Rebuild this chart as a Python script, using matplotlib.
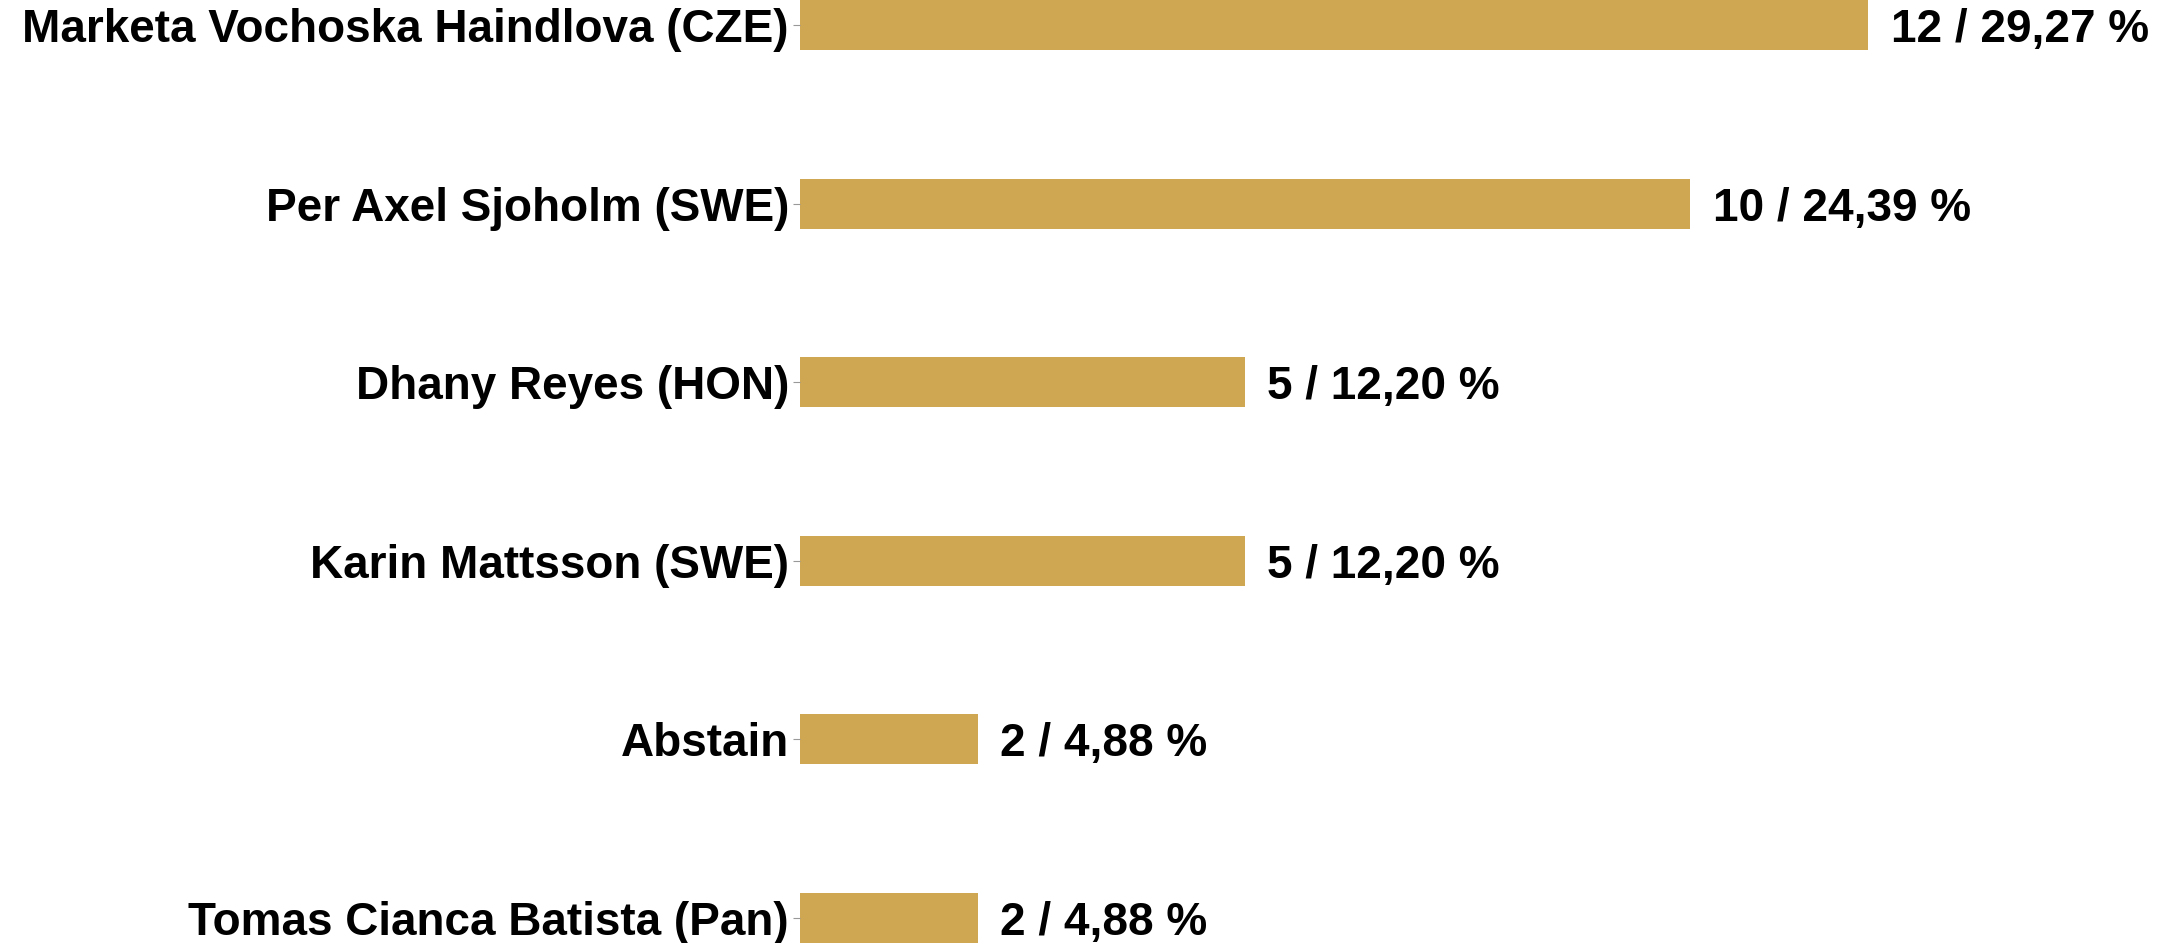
import numpy as np
import matplotlib.pyplot as plt

# Stimmen pro Kandidat
names = ['Marketa Vochoska Haindlova (CZE)', 'Per Axel Sjoholm (SWE)',
         'Dhany Reyes (HON)', 'Karin Mattsson (SWE)', 'Abstain',
         'Tomas Cianca Batista (Pan)']
votes = [12, 10, 5, 5, 2, 2]
percent = ['29,27', '24,39', '12,20', '12,20', '4,88', '4,88']

bar_color = '#cfa652'

fig = plt.figure(figsize=(21.71, 9.43), dpi=100)
ax = fig.add_axes([0.3685, 0.0, 0.6315, 1.0])

y = np.arange(len(names))
ax.barh(y, votes, height=0.28, color=bar_color)

for yi, v, p in zip(y, votes, percent):
    ax.text(v + 0.25, yi, f'{v} / {p} %', va='center_baseline', ha='left',
            fontsize=33, fontweight='bold', family='Liberation Sans')

ax.set_yticks(y)
ax.set_yticklabels(names, fontsize=33, fontweight='bold', family='Liberation Sans')
ax.tick_params(axis='y', length=5, width=0.8, color='#999999', pad=3)
ax.set_xticks([])
ax.set_xlim(0, 15.4)
ax.set_ylim(5.14, -0.14)
for s in ax.spines.values():
    s.set_visible(False)

fig.savefig('out.png', dpi=100)
